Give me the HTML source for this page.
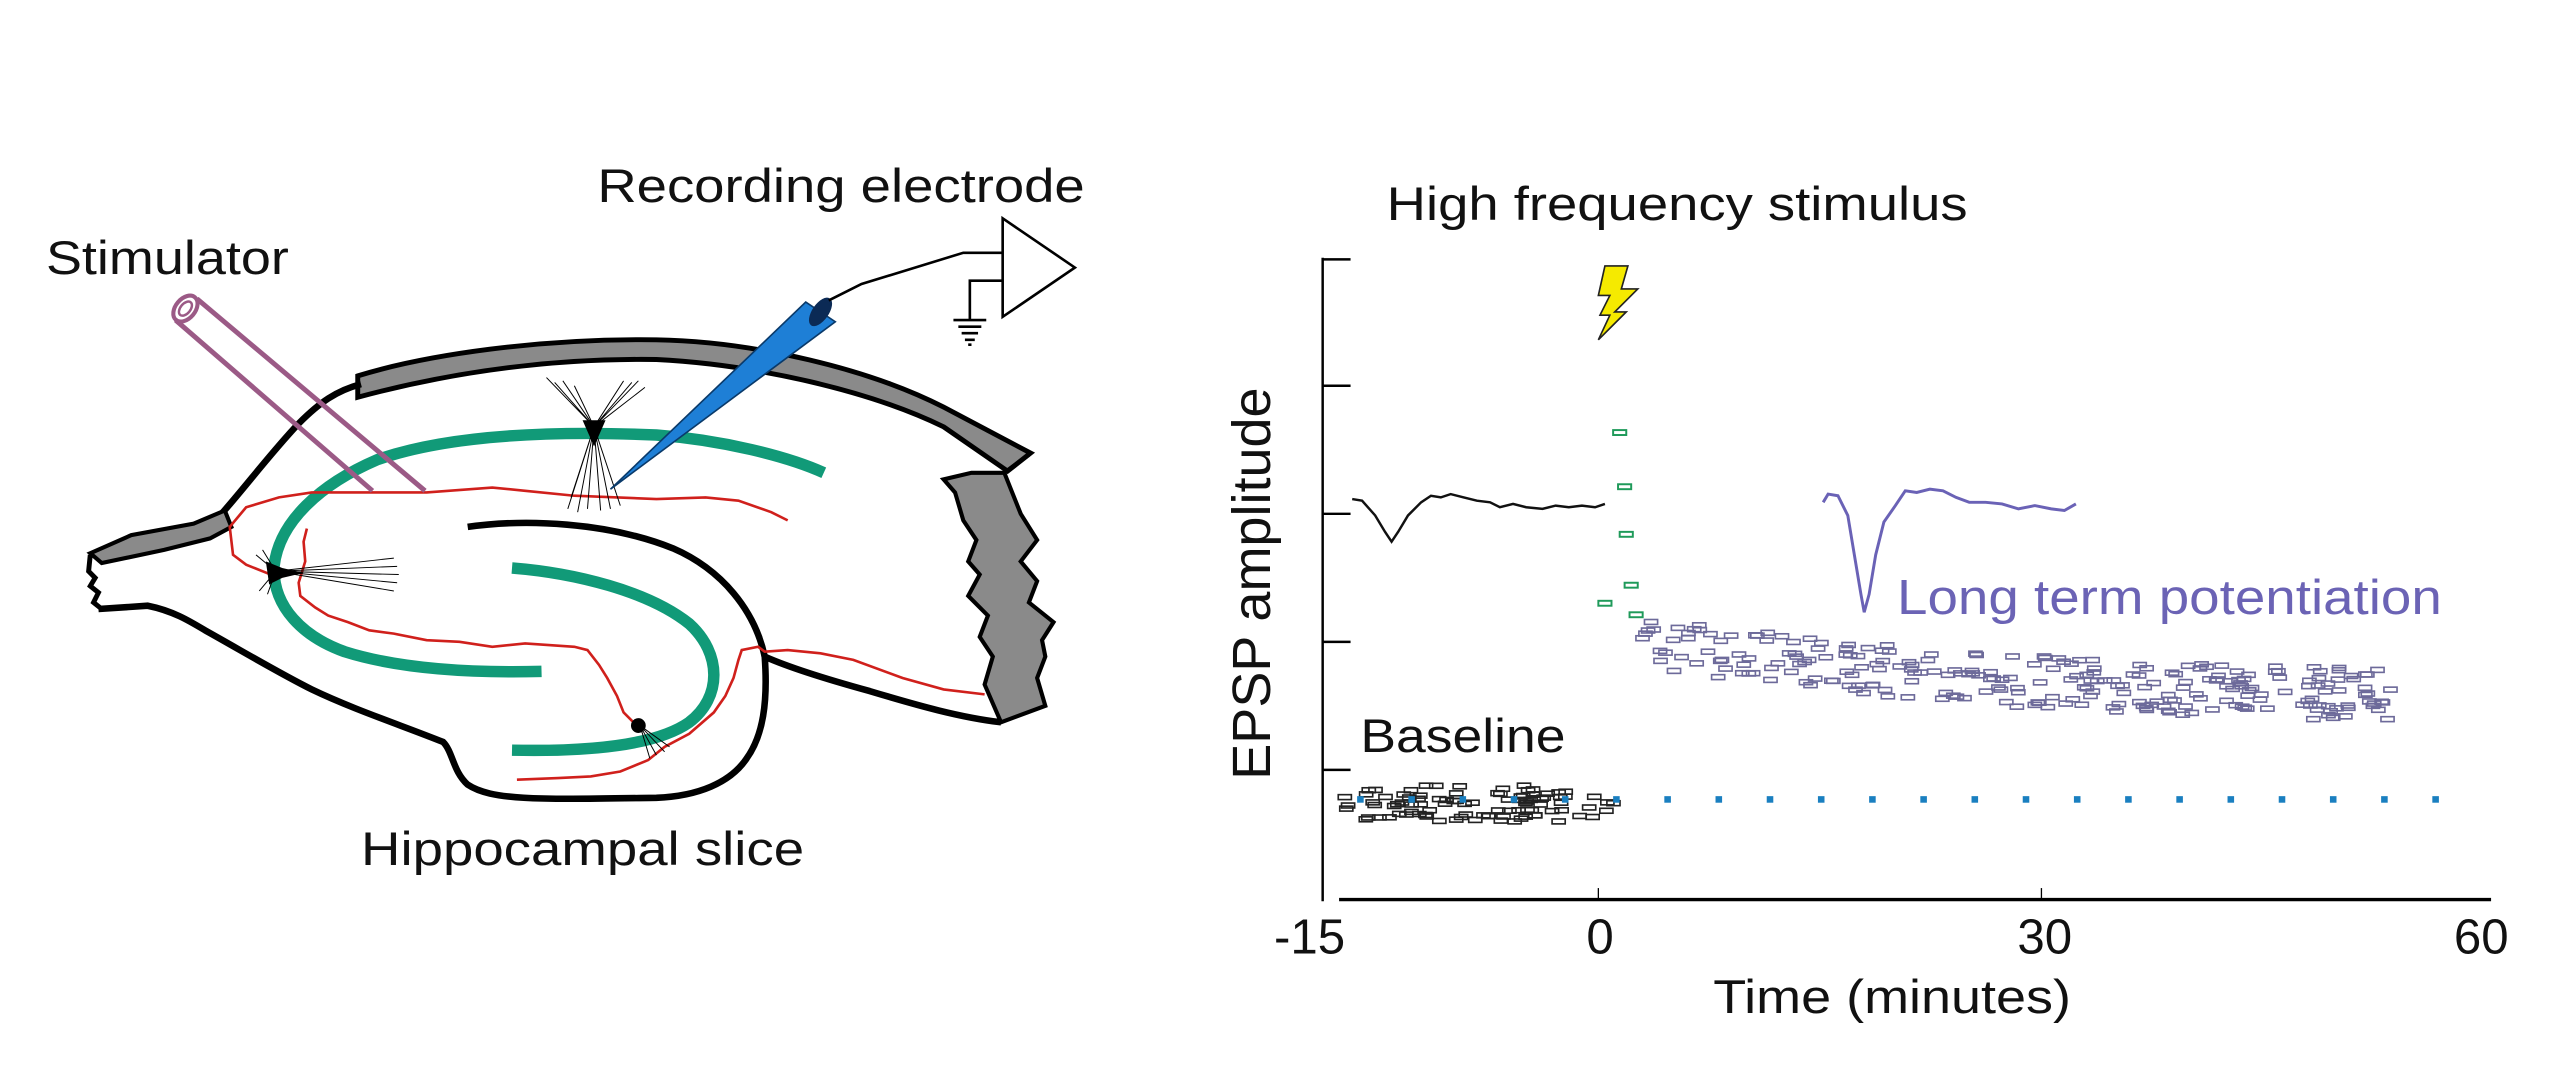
<!DOCTYPE html>
<html><head><meta charset="utf-8"><style>
html,body{margin:0;padding:0;background:#fff;}
svg{display:block;}
text{font-family:"Liberation Sans",Arial,sans-serif;}
</style></head><body>
<svg id="s" width="2560" height="1067" viewBox="0 0 1560 650" preserveAspectRatio="none" xmlns="http://www.w3.org/2000/svg">
<rect width="1560" height="650" fill="#fff"/>
<path d="M218,229 C260,216 330,206 400,207 C460,208 530,225 575,248 L628,276 L614,287 L575,260 C530,238 460,222 400,219 C330,218 270,228 218,242 Z" fill="#8a8a8a" stroke="#000" stroke-width="3"/>
<path d="M135,313 C150,296 165,276 182,258 C195,245 205,238 220,234" fill="none" stroke="#000" stroke-width="4"/>
<path d="M55,337 L80,326 L118,319 L137,311 L141,321 L128,328 L100,335 L62,343 Z" fill="#8a8a8a" stroke="#000" stroke-width="2.5"/>
<path d="M55,338 L54,348 L58,352 L55,357 L60,361 L57,367 L62,371" fill="none" stroke="#000" stroke-width="3"/>
<path d="M60,371 L90,369 C105,372 115,378 125,384 C150,398 170,410 190,420 C215,432 245,442 270,452 C276,458 276,470 285,478 C300,488 330,487 400,486 C425,485 445,477 455,462 C465,448 468,428 466,400 C475,404 490,410 530,421 C560,430 585,437 610,440" fill="none" stroke="#000" stroke-width="4"/>
<path d="M285,321 C320,316 370,318 410,334 C440,347 460,372 466,400" fill="none" stroke="#000" stroke-width="4"/>
<path d="M627,277 L612,288 L622,313 L632,329 L622,342 L632,354 L627,367 L642,379 L635,390 L637,400 L632,413 L637,430 L610,440 L600,417 L605,400 L597,388 L602,375 L590,363 L597,350 L590,342 L595,329 L587,317 L582,300 L575,292 L592,288 L612,288 Z" fill="#8a8a8a" stroke="#000" stroke-width="2.5"/>
<path d="M502,288 C480,278 440,268 400,265 C330,262 270,266 230,280 C195,295 170,318 167,345 C166,370 185,388 210,397 C245,408 290,410 330,409" fill="none" stroke="#119a78" stroke-width="7"/>
<path d="M312,346 C350,349 395,360 420,380 C440,398 440,425 420,440 C400,454 360,458 312,457" fill="none" stroke="#119a78" stroke-width="7"/>
<g fill="none" stroke="#d0201c" stroke-width="1.6">
<path d="M165,350 L150,344 L142,338 L140,321 L150,309 L170,303 L190,300 L225,300 L260,300 L300,297 L320,299 L350,302 L400,304 L430,303 L450,305 L470,312 L480,317"/>
<path d="M187,322 L185,330 L186,342 L182,355 L183,363 L192,370 L200,375 L212,379 L225,384 L240,386 L260,390 L280,391 L300,394 L320,392 L350,394 L358,396 L365,405 L370,413 L376,424 L380,434 L386,440 L390,442"/>
<path d="M315,475 L340,474 L360,473 L378,470 L395,463 L405,455 L420,447 L435,434 L442,424 L447,413 L450,402 L452,396 L462,394 L466,397 L480,396 L500,398 L520,402 L550,413 L575,420 L600,423"/>
</g>
<g stroke="#000" stroke-width="0.6" fill="none">
<path d="M362,260 L333,230 M362,260 L338,233 M362,260 L343,232 M362,260 L350,235 M362,260 L385,233 M362,260 L393,236 M362,260 L389,232 M362,260 L380,232 M362,260 L346,310 M362,260 L352,312 M362,260 L358,310 M362,260 L366,311 M362,260 L372,310 M362,260 L378,308 M362,260 L348,303"/>
<path d="M168,348 L240,340 M168,348 L242,345 M168,348 L243,350 M168,348 L242,355 M168,348 L240,360 M168,348 L160,335 M168,348 L156,338 M168,348 L158,360 M168,348 L163,362"/>
<path d="M390,442 L396,462 M390,442 L400,460 M390,442 L405,458 M390,442 L408,455"/>
</g>
<path d="M355,256 L369,256 L362,272 Z" fill="#000"/>
<path d="M162,342 L172,346 L185,349 L172,352 L164,356 Z" fill="#000"/>
<circle cx="389" cy="442" r="4.5" fill="#000"/>
<g stroke="#9b5a86" stroke-width="3" fill="none">
<line x1="120" y1="182" x2="259" y2="299"/>
<line x1="107" y1="195" x2="227" y2="299"/>
<ellipse cx="113" cy="188" rx="9" ry="6" transform="rotate(-50 113 188)" stroke-width="2.5"/>
<ellipse cx="113" cy="188" rx="5" ry="3" transform="rotate(-50 113 188)" stroke-width="1.5"/>
</g>
<path d="M372,298 L491,184 L509,196 Z" fill="#1e7fd6" stroke="#0a3a6a" stroke-width="1"/>
<ellipse cx="500" cy="190" rx="5" ry="10" transform="rotate(35 500 190)" fill="#0b2a55"/>
<g stroke="#000" stroke-width="1.6" fill="none">
<path d="M505,183 L525,173 L587,154 L611,154"/>
<path d="M611,133 L611,193 L655,163 Z" fill="#fff"/>
<path d="M611,171 L591,171 L591,195"/>
<path d="M581,195 L601,195 M584,199 L598,199 M586,203 L596,203 M588,207 L594,207 M590,210 L592,210"/>
</g>
<text x="364" y="123" font-size="29" textLength="297" lengthAdjust="spacingAndGlyphs" fill="#111">Recording electrode</text>
<text x="28" y="167" font-size="29" textLength="148" lengthAdjust="spacingAndGlyphs" fill="#111">Stimulator</text>
<text x="220" y="527" font-size="29" textLength="270" lengthAdjust="spacingAndGlyphs" fill="#111">Hippocampal slice</text>

<text x="845" y="134" font-size="29" textLength="354" lengthAdjust="spacingAndGlyphs" fill="#111">High frequency stimulus</text>
<g stroke="#000" stroke-width="1.5">
<line x1="806" y1="157" x2="806" y2="549"/>
<line x1="806" y1="158" x2="823" y2="158"/>
<line x1="806" y1="235" x2="823" y2="235"/>
<line x1="806" y1="313" x2="823" y2="313"/>
<line x1="806" y1="391" x2="823" y2="391"/>
<line x1="806" y1="469" x2="823" y2="469"/>
<line x1="816" y1="548" x2="1518" y2="548" stroke-width="2"/>
<line x1="974" y1="541" x2="974" y2="548" stroke-width="0.8"/>
<line x1="1244" y1="541" x2="1244" y2="548" stroke-width="0.8"/>
</g>
<text x="798" y="581" font-size="30" text-anchor="middle" fill="#111">-15</text>
<text x="975" y="581" font-size="30" text-anchor="middle" fill="#111">0</text>
<text x="1246" y="581" font-size="30" text-anchor="middle" fill="#111">30</text>
<text x="1512" y="581" font-size="30" text-anchor="middle" fill="#111">60</text>
<text x="1044" y="617" font-size="29" textLength="218" lengthAdjust="spacingAndGlyphs" fill="#111">Time (minutes)</text>
<text transform="translate(774,475) rotate(-90)" font-size="33" textLength="239" lengthAdjust="spacingAndGlyphs" fill="#111">EPSP amplitude</text>
<path d="M978,162 L992,162 L988,176 L998,176 L984,190 L991,190 L974,207 L981,192 L975,192 L981,180 L974,180 Z" fill="#f5ea00" stroke="#222" stroke-width="1"/>
<path d="M824,304 L830,305 L838,314 L844,324 L848,330 L852,324 L858,314 L866,306 L872,302 L878,303 L884,301 L892,303 L900,305 L908,306 L914,309 L922,307 L930,309 L940,310 L948,308 L956,309 L964,308 L972,309 L978,307" fill="none" stroke="#111" stroke-width="1.5"/>
<path d="M1111,306 L1114,301 L1120,302 L1126,314 L1130,338 L1134,362 L1136,373 L1139,362 L1143,338 L1148,318 L1155,308 L1161,299 L1168,300 L1176,298 L1184,299 L1192,303 L1200,306 L1210,306 L1220,307 L1230,310 L1240,308 L1250,310 L1258,311 L1265,307" fill="none" stroke="#6a62b6" stroke-width="1.8"/>
<text x="1156" y="374" font-size="30" textLength="332" lengthAdjust="spacingAndGlyphs" fill="#6b63b5">Long term potentiation</text>
<text x="829" y="458" font-size="29" textLength="125" lengthAdjust="spacingAndGlyphs" fill="#111">Baseline</text>
<g id="pts" fill="none" stroke-width="1"></g>
<g id="dots" fill="#1a7fc0"></g>
<g fill="none" stroke="#1f9a5a" stroke-width="1.2">
<rect x="983" y="262" width="8" height="3"/>
<rect x="986" y="295" width="8" height="3"/>
<rect x="987" y="324" width="8" height="3"/>
<rect x="990" y="355" width="8" height="3"/>
<rect x="993" y="373" width="8" height="3"/>
<rect x="974" y="366" width="8" height="3"/>
</g>
</svg>
<script>
(function(){
var ns="http://www.w3.org/2000/svg";
var d=document.getElementById("dots");
for(var x=827;x<=1490;x+=31.2){var r=document.createElementNS(ns,"rect");r.setAttribute("x",x);r.setAttribute("y",485);r.setAttribute("width",4);r.setAttribute("height",4);d.appendChild(r);}
var g=document.getElementById("pts");var s=12345;
function rnd(){s=(s*1103515245+12345)%2147483648;return s/2147483648;}
function add(x,y,c){var r=document.createElementNS(ns,"rect");r.setAttribute("x",x.toFixed(1));r.setAttribute("y",y.toFixed(1));r.setAttribute("width",8);r.setAttribute("height",3);r.setAttribute("stroke",c);g.appendChild(r);}
for(var i=0;i<95;i++){var x=814+rnd()*166;add(x,477+rnd()*22,"#222");}
for(var i=0;i<260;i++){var t=rnd();var x=996+t*460;var base=388+38*(1-Math.exp(-t*2.2));add(x,base+(rnd()-0.5)*32,"#6d6a9a");}
})();
</script>
</body></html>
